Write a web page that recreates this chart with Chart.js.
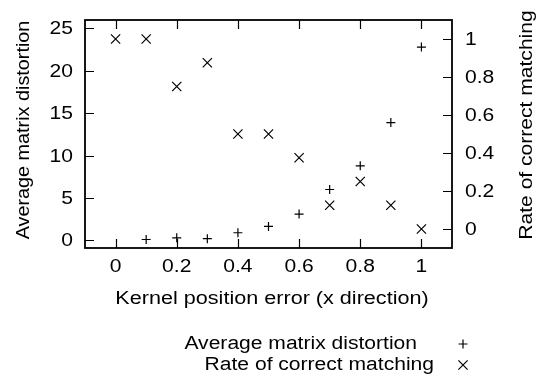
<!DOCTYPE html>
<html>
<head>
<meta charset="utf-8">
<script src="https://cdn.jsdelivr.net/npm/chart.js@4/dist/chart.umd.min.js"></script>
<style>
  html, body { margin: 0; padding: 0; background: #fff; }
</style>
</head>
<body>
<canvas id="chart" width="538" height="378"></canvas>
<script>
// data
const xPositions = [0, 0.1, 0.2, 0.3, 0.4, 0.5, 0.6, 0.7, 0.8, 0.9, 1];
const distortion = [null, 0.1, 0.3, 0.2, 0.9, 1.65, 3.1, 6.0, 8.8, 13.9, 22.8];
const matchingRate = [1, 1, 0.75, 0.875, 0.5, 0.5, 0.375, 0.125, 0.25, 0.125, 0];

const xTicks = [0, 0.2, 0.4, 0.6, 0.8, 1];
const yTicks = [0, 5, 10, 15, 20, 25];
const y2Ticks = [0, 0.2, 0.4, 0.6, 0.8, 1];

const seriesLabels = ["Average matrix distortion", "Rate of correct matching"];
const xTitle = "Kernel position error (x direction)";
const yTitle = "Average matrix distortion";
const y2Title = "Rate of correct matching";

const FONT = '18px "Liberation Sans", Arial, sans-serif';

const toPoints = (ys) =>
  xPositions
    .map((x, i) => ({ x: x, y: ys[i] }))
    .filter(p => p.y !== null);

const fixTicks = (vals) => (scale) => {
  scale.ticks = vals.map(v => ({ value: v }));
};

// draws stretched text, gnuplot-ish
function txt(ctx, s, x, y, align, sx, rot) {
  ctx.save();
  ctx.translate(x, y);
  if (rot) ctx.rotate(rot);
  ctx.scale(sx, 1);
  ctx.textAlign = align;
  ctx.textBaseline = "middle";
  ctx.fillText(s, 0, 0);
  ctx.restore();
}

const framePlugin = {
  id: "gnuplotFrame",
  afterDraw(chart) {
    const ctx = chart.ctx;
    const a = chart.chartArea;
    const sx = chart.scales.x, sy = chart.scales.y, sy2 = chart.scales.y2;
    const tick = 9;

    ctx.save();
    ctx.strokeStyle = "#000";
    ctx.fillStyle = "#000";

    // ticks (inward)
    ctx.lineWidth = 1.2;
    ctx.beginPath();
    xTicks.forEach(v => {
      const px = Math.round(sx.getPixelForValue(v)) + 0.5;
      ctx.moveTo(px, a.bottom); ctx.lineTo(px, a.bottom - tick);
      ctx.moveTo(px, a.top); ctx.lineTo(px, a.top + tick);
    });
    yTicks.forEach(v => {
      const py = Math.round(sy.getPixelForValue(v)) + 0.5;
      ctx.moveTo(a.left, py); ctx.lineTo(a.left + tick, py);
    });
    y2Ticks.forEach(v => {
      const py = Math.round(sy2.getPixelForValue(v)) + 0.5;
      ctx.moveTo(a.right, py); ctx.lineTo(a.right - tick, py);
    });
    ctx.stroke();

    // border
    ctx.lineWidth = 1.8;
    ctx.strokeRect(a.left, a.top, a.right - a.left, a.bottom - a.top);

    // tick labels
    ctx.font = FONT;
    xTicks.forEach(v => txt(ctx, String(v), sx.getPixelForValue(v), 267, "center", 1.17));
    yTicks.forEach(v => txt(ctx, String(v), 73, sy.getPixelForValue(v) + 1, "right", 1.17));
    y2Ticks.forEach(v => txt(ctx, String(v), 465, sy2.getPixelForValue(v) + 1, "left", 1.17));

    // axis titles
    txt(ctx, xTitle, 272, 299, "center", 1.2);
    txt(ctx, yTitle, 24, 130, "center", 1.1, -Math.PI / 2);
    txt(ctx, y2Title, 527, 125, "center", 1.17, -Math.PI / 2);

    // key
    const keyRows = [344, 365];
    const keyEnds = [417, 434];
    chart.data.datasets.forEach((ds, i) => {
      txt(ctx, ds.label, keyEnds[i], keyRows[i], "right", 1.17);
      ctx.lineWidth = ds.borderWidth;
      Chart.helpers.drawPoint(ctx, {
        pointStyle: ds.pointStyle,
        radius: ds.pointRadius,
        borderWidth: ds.borderWidth,
        rotation: 0
      }, 463, keyRows[i]);
    });
    ctx.restore();
  }
};

new Chart(document.getElementById("chart").getContext("2d"), {
  type: "scatter",
  data: {
    datasets: [
      {
        label: seriesLabels[0],
        data: toPoints(distortion),
        yAxisID: "y",
        pointStyle: "cross",
        pointRadius: 4.5,
        pointHoverRadius: 4.5,
        borderColor: "#000",
        backgroundColor: "transparent",
        borderWidth: 1.2,
      },
      {
        label: seriesLabels[1],
        data: toPoints(matchingRate),
        yAxisID: "y2",
        pointStyle: "crossRot",
        pointRadius: 6.5,
        pointHoverRadius: 6.5,
        borderColor: "#000",
        backgroundColor: "transparent",
        borderWidth: 1.2,
      },
    ],
  },
  options: {
    responsive: false,
    animation: false,
    events: [],
    layout: { padding: { top: 20, left: 0, right: 0, bottom: 0 } },
    plugins: {
      legend: { display: false },
      tooltip: { enabled: false },
    },
    scales: {
      x: {
        type: "linear",
        position: "bottom",
        min: -0.1,
        max: 1.1,
        grid: { display: false },
        border: { display: false },
        ticks: { display: false },
        afterBuildTicks: fixTicks(xTicks),
        afterFit: (s) => { s.height = 130; },
      },
      y: {
        type: "linear",
        position: "left",
        min: -0.9,
        max: 26,
        grid: { display: false },
        border: { display: false },
        ticks: { display: false },
        afterBuildTicks: fixTicks(yTicks),
        afterFit: (s) => { s.width = 85; },
      },
      y2: {
        type: "linear",
        position: "right",
        min: -0.1,
        max: 1.1,
        grid: { display: false },
        border: { display: false },
        ticks: { display: false },
        afterBuildTicks: fixTicks(y2Ticks),
        afterFit: (s) => { s.width = 86; },
      },
    },
  },
  plugins: [framePlugin],
});
</script>
</body>
</html>
